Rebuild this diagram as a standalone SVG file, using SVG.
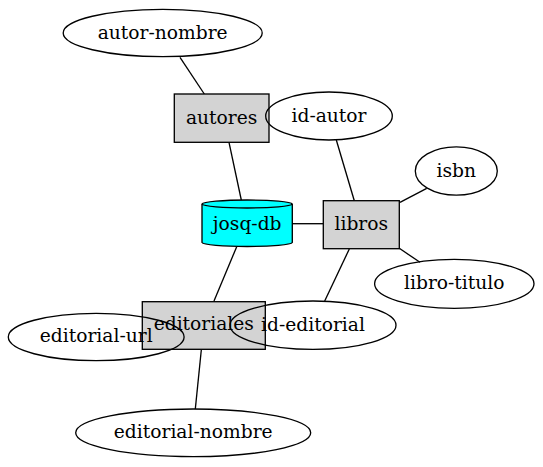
<svg xmlns="http://www.w3.org/2000/svg" width="543" height="467" viewBox="0 0 543 467">
<style>
  .e { fill: none; stroke: #000; stroke-width: 1.33; }
  .b { fill: #d3d3d3; stroke: #000; stroke-width: 1.33; }
  .c { fill: #00ffff; stroke: #000; stroke-width: 1.33; }
  .t { font-family: "DejaVu Serif", "Liberation Serif", serif; font-size: 18.67px; text-anchor: middle; fill: #000; }
  #connectors line { stroke: #000; stroke-width: 1.33; }
</style>
<rect width="543" height="467" fill="#fff"/>
<g id="connectors">
  <line x1="180" y1="57.3" x2="204.3" y2="94"/>
  <line x1="229" y1="142.3" x2="241.3" y2="200"/>
  <line x1="336.3" y1="140" x2="354.3" y2="200.7"/>
  <line x1="426.7" y1="188.3" x2="400" y2="202.3"/>
  <line x1="292" y1="223.7" x2="323" y2="223.7"/>
  <line x1="236.7" y1="246.7" x2="214" y2="301"/>
  <line x1="349.3" y1="249" x2="324.7" y2="301"/>
  <line x1="399.3" y1="248.3" x2="420" y2="262.3"/>
  <line x1="201.3" y1="350" x2="195.3" y2="409"/>
</g>
<g id="autor-nombre">
  <ellipse class="e" cx="162.7" cy="33" rx="99.5" ry="23.7"/>
  <text class="t" x="162.7" y="38.8">autor-nombre</text>
</g>
<g id="autores">
  <rect class="b" x="174.3" y="94" width="94.7" height="48.3"/>
  <text class="t" x="221.6" y="123.5">autores</text>
</g>
<g id="id-autor">
  <ellipse class="e" cx="329" cy="116" rx="63.3" ry="24"/>
  <text class="t" x="329" y="121.5">id-autor</text>
</g>
<g id="isbn">
  <ellipse class="e" cx="456.3" cy="171" rx="41" ry="24.2"/>
  <text class="t" x="456.3" y="176.5">isbn</text>
</g>
<g id="josq-db">
  <path class="c" d="M202,204 A45.2,4.2 0 0 1 292.3,204 L292.3,242.5 A45.2,4.2 0 0 1 202,242.5 Z"/>
  <path class="e" d="M202,204 A45.2,4.2 0 0 0 292.3,204"/>
  <text class="t" x="247.2" y="229.5">josq-db</text>
</g>
<g id="libros">
  <rect class="b" x="323.3" y="200.7" width="76" height="48"/>
  <text class="t" x="361.3" y="230.2">libros</text>
</g>
<g id="libro-titulo">
  <ellipse class="e" cx="454.3" cy="283.8" rx="79.7" ry="24.5"/>
  <text class="t" x="454.3" y="289.3">libro-titulo</text>
</g>
<g id="editoriales">
  <rect class="b" x="142.3" y="301.7" width="123" height="47.6"/>
  <text class="t" x="203.8" y="330">editoriales</text>
</g>
<g id="id-editorial">
  <ellipse class="e" cx="313" cy="325.2" rx="83" ry="24.2"/>
  <text class="t" x="313" y="330.5">id-editorial</text>
</g>
<g id="editorial-url">
  <ellipse class="e" cx="96.2" cy="337" rx="87.9" ry="23.7"/>
  <text class="t" x="96.2" y="342.3">editorial-url</text>
</g>
<g id="editorial-nombre">
  <ellipse class="e" cx="193.2" cy="432.8" rx="117.5" ry="23.8"/>
  <text class="t" x="193.2" y="438.3">editorial-nombre</text>
</g>
</svg>
